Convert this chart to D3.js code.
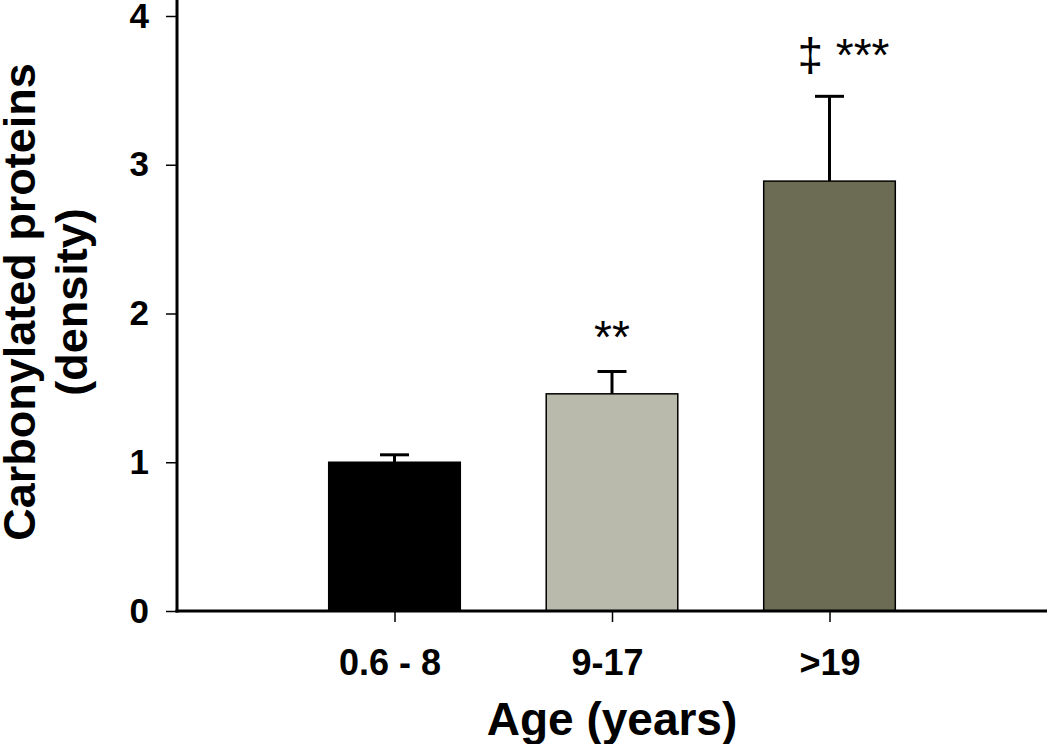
<!DOCTYPE html>
<html>
<head>
<meta charset="utf-8">
<script src="https://cdn.jsdelivr.net/npm/d3@7"></script>
<style>
  body { margin: 0; background: #fff; }
  text { font-family: "Liberation Sans", Arial, sans-serif; }
</style>
</head>
<body>
<script>
// Chart values
const ageGroups = ['0.6 - 8', '9-17', '>19'];
const means = [1.00, 1.46, 2.89];
const errors = [0.05, 0.15, 0.57];
const marks = ['', '**', '‡ ***'];
const yTicks = [0, 1, 2, 3, 4];
const barColors = ['#000000', '#b9b9ac', '#6c6c55'];

const width = 1050;
const height = 744;

const svg = d3.select('body')
    .append('svg')
    .attr('width', width)
    .attr('height', height);

// Scales
const x = d3.scalePoint()
    .domain(ageGroups)
    .range([177, 1047])
    .padding(1);

const y = d3.scaleLinear()
    .domain([0, 4])
    .range([611, 16]);

const barWidth = x.step() * 0.605;

// Bars
svg.selectAll('rect.bar')
    .data(ageGroups)
    .enter()
    .append('rect')
    .attr('class', 'bar')
    .attr('x', d => x(d) - barWidth / 2)
    .attr('y', (d, i) => y(means[i]))
    .attr('width', barWidth)
    .attr('height', (d, i) => y(0) - y(means[i]))
    .attr('fill', (d, i) => barColors[i])
    .attr('stroke', '#000')
    .attr('stroke-width', 1.5);

// Error bars (upper only)
const capWidth = 29;
const err = svg.append('g').attr('stroke', '#000').attr('stroke-width', 3);

err.selectAll('line.stem')
    .data(ageGroups)
    .enter()
    .append('line')
    .attr('x1', d => x(d))
    .attr('x2', d => x(d))
    .attr('y1', (d, i) => y(means[i]))
    .attr('y2', (d, i) => y(means[i] + errors[i]));

err.selectAll('line.cap')
    .data(ageGroups)
    .enter()
    .append('line')
    .attr('x1', d => x(d) - capWidth / 2)
    .attr('x2', d => x(d) + capWidth / 2)
    .attr('y1', (d, i) => y(means[i] + errors[i]))
    .attr('y2', (d, i) => y(means[i] + errors[i]));

// Significance marks
svg.selectAll('text.mark')
    .data(marks)
    .enter()
    .append('text')
    .attr('class', 'mark')
    .attr('x', (d, i) => x(ageGroups[i]) + (i === 2 ? 14 : 0))
    .attr('y', (d, i) => y(means[i] + errors[i]) - (i === 2 ? 25 : 19))
    .attr('text-anchor', 'middle')
    .attr('font-size', '46px')
    .attr('fill', '#000')
    .text(d => d);

// Y axis
const yAxis = svg.append('g')
    .attr('transform', 'translate(177,0)')
    .call(d3.axisLeft(y).tickValues(yTicks).tickFormat(d3.format('d')).tickSize(11).tickPadding(17));
yAxis.select('.domain').remove();
yAxis.selectAll('.tick line').attr('stroke-width', 1.5);
yAxis.selectAll('.tick text')
    .attr('font-size', '35px')
    .attr('font-weight', 'bold')
    .attr('fill', '#000');

// X axis
const xAxis = svg.append('g')
    .attr('transform', 'translate(0,611)')
    .call(d3.axisBottom(x).tickSize(11).tickPadding(27));
xAxis.select('.domain').remove();
xAxis.selectAll('.tick line').attr('stroke-width', 1.5);
xAxis.selectAll('.tick text')
    .attr('dx', (d, i) => i < 2 ? -5 : 0)
    .attr('font-size', '36px')
    .attr('font-weight', 'bold')
    .attr('fill', '#000');

// Axis lines
svg.append('line')
    .attr('x1', 177).attr('x2', 177)
    .attr('y1', 0).attr('y2', 612.5)
    .attr('stroke', '#000').attr('stroke-width', 3);
svg.append('line')
    .attr('x1', 175.5).attr('x2', 1047)
    .attr('y1', 611).attr('y2', 611)
    .attr('stroke', '#000').attr('stroke-width', 3);

// Axis titles
svg.append('text')
    .attr('x', 612)
    .attr('y', 735)
    .attr('text-anchor', 'middle')
    .attr('font-size', '46px')
    .attr('font-weight', 'bold')
    .text('Age (years)');

const yTitle = svg.append('text')
    .attr('transform', 'translate(0,302) rotate(-90)')
    .attr('text-anchor', 'middle')
    .attr('font-size', '45px')
    .attr('font-weight', 'bold');
yTitle.append('tspan').attr('x', 0).attr('y', 35).text('Carbonylated proteins');
yTitle.append('tspan').attr('x', 0).attr('y', 87).text('(density)');
</script>
</body>
</html>
